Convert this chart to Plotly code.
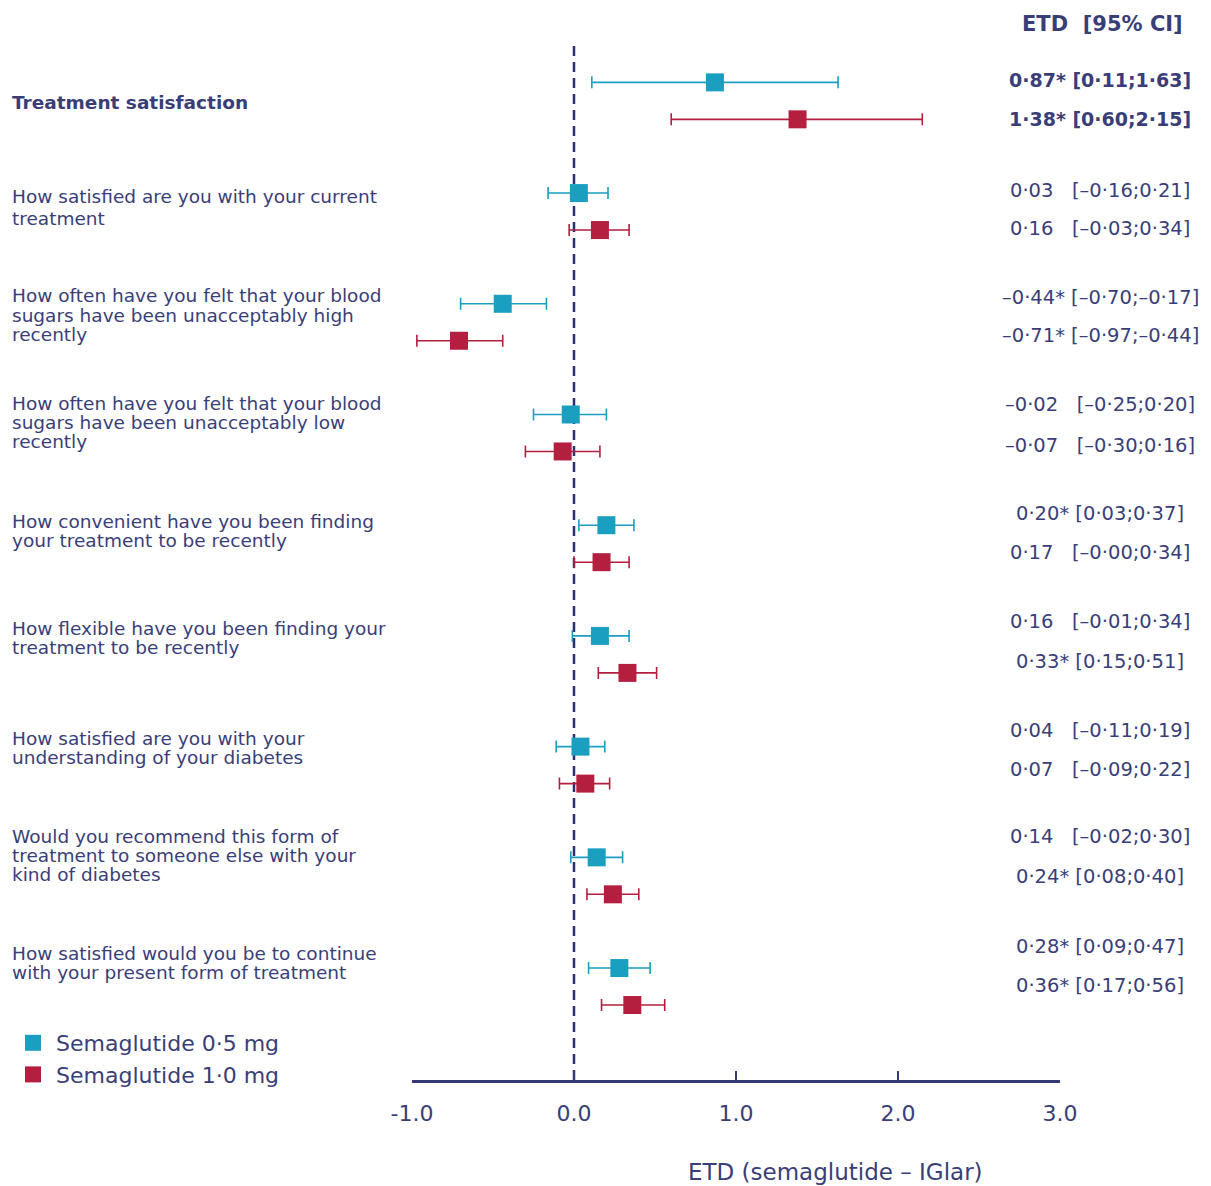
import plotly.graph_objects as go

# ---------------- data ----------------
categories = [
    ["Treatment satisfaction"],
    ["How satisfied are you with your current", "treatment"],
    ["How often have you felt that your blood", "sugars have been unacceptably high", "recently"],
    ["How often have you felt that your blood", "sugars have been unacceptably low", "recently"],
    ["How convenient have you been finding", "your treatment to be recently"],
    ["How flexible have you been finding your", "treatment to be recently"],
    ["How satisfied are you with your", "understanding of your diabetes"],
    ["Would you recommend this form of", "treatment to someone else with your", "kind of diabetes"],
    ["How satisfied would you be to continue", "with your present form of treatment"],
]

sema05_est = [0.87, 0.03, -0.44, -0.02, 0.20, 0.16, 0.04, 0.14, 0.28]
sema05_lo = [0.11, -0.16, -0.70, -0.25, 0.03, -0.01, -0.11, -0.02, 0.09]
sema05_hi = [1.63, 0.21, -0.17, 0.20, 0.37, 0.34, 0.19, 0.30, 0.47]
sema05_sig = [True, False, True, False, True, False, False, False, True]

sema10_est = [1.38, 0.16, -0.71, -0.07, 0.17, 0.33, 0.07, 0.24, 0.36]
sema10_lo = [0.60, -0.03, -0.97, -0.30, -0.00, 0.15, -0.09, 0.08, 0.17]
sema10_hi = [2.15, 0.34, -0.44, 0.16, 0.34, 0.51, 0.22, 0.40, 0.56]
sema10_sig = [True, False, True, False, False, True, False, True, True]

series_names = ["Semaglutide 0·5 mg", "Semaglutide 1·0 mg"]
tick_vals = [-1, 0, 1, 2, 3]
tick_labels = ["-1.0", "0.0", "1.0", "2.0", "3.0"]

# ---------------- styling ----------------
TEAL = "#1a9fc1"
RED = "#b41e3f"
NAVY = "#3a3e78"
LINE = "#353a74"
FONT = "DejaVu Sans"

# page offset (browser body margin)
OFF = 8
# reference geometry (screen pixels)
SW, SH = 1211, 1186
L, R, T, B = 412, 1060, 27, 1080
W, H = SW - OFF, SH - OFF
ROW_PX = 110.75
Y_TOP = -0.5
Y_BOT = (B - 82) / ROW_PX
OFFSET = 37 / ROW_PX


def pxx(px):
    return (px - L) / (R - L)


def pxy(py):
    return (B - py) / (B - T)


def fmt(v):
    return f"{v:.2f}".replace("-", "–").replace(".", "·")


rows = list(range(len(categories)))

fig = go.Figure()

for name, est, lo, hi, col, off in [
    (series_names[0], sema05_est, sema05_lo, sema05_hi, TEAL, 0.0),
    (series_names[1], sema10_est, sema10_lo, sema10_hi, RED, OFFSET),
]:
    fig.add_trace(go.Scatter(
        x=est,
        y=[r + off for r in rows],
        mode="markers",
        name=name,
        legendgroup=name,
        marker=dict(symbol="square", size=18, color=col, line=dict(width=0)),
        error_x=dict(
            type="data", symmetric=False,
            array=[h - e for h, e in zip(hi, est)],
            arrayminus=[e - l for e, l in zip(est, lo)],
            color=col, thickness=1.6, width=6,
        ),
        showlegend=True,
    ))

# dashed zero line
fig.add_shape(type="line", xref="x", yref="paper", x0=0, x1=0,
              y0=0, y1=pxy(45),
              line=dict(color="#2b2f6b", width=2.5, dash="10px,6px"), layer="below")

annotations = []

# left labels
label_centers_px = [103, 208, 315, 422, 531, 638, 748, 855, 963]
for i, lines in enumerate(categories):
    n = len(lines)
    sp = 22 if i == 1 else 19
    for j, ln in enumerate(lines):
        py = label_centers_px[i] + (j - (n - 1) / 2) * sp
        txt = f"<b>{ln}</b>" if i == 0 else ln
        annotations.append(dict(
            x=pxx(10), y=pxy(py), xref="paper", yref="paper", text=txt,
            showarrow=False, xanchor="left", yanchor="middle",
            font=dict(family=FONT, size=18.5, color=NAVY),
        ))

# right value column
right_px = [(80, 119), (190, 229), (297, 335), (405, 445), (513, 552),
            (621, 661), (730, 769), (837, 876), (946, 985)]
for i in rows:
    for k, (est, lo, hi, sig) in enumerate([
        (sema05_est[i], sema05_lo[i], sema05_hi[i], sema05_sig[i]),
        (sema10_est[i], sema10_lo[i], sema10_hi[i], sema10_sig[i]),
    ]):
        mark = "* " if sig else "\u00a0\u00a0\u00a0"
        txt = f"{fmt(est)}{mark}[{fmt(lo)};{fmt(hi)}]"
        if i == 0:
            txt = f"<b>{txt}</b>"
        annotations.append(dict(
            x=pxx(1100), y=pxy(right_px[i][k]), xref="paper", yref="paper", text=txt,
            showarrow=False, xanchor="center", yanchor="middle",
            font=dict(family=FONT, size=19.5 if i else 19, color=NAVY),
        ))

# header
annotations.append(dict(
    x=pxx(1102), y=pxy(24), xref="paper", yref="paper",
    text="<b>ETD\u00a0\u00a0[95% CI]</b>", showarrow=False,
    xanchor="center", yanchor="middle",
    font=dict(family=FONT, size=21, color=NAVY),
))

# axis title
annotations.append(dict(
    x=pxx(835), y=pxy(1172), xref="paper", yref="paper",
    text="ETD (semaglutide – IGlar)", showarrow=False,
    xanchor="center", yanchor="middle",
    font=dict(family=FONT, size=23, color=NAVY),
))

fig.update_layout(
    width=W, height=H,
    margin=dict(l=L - OFF, r=SW - R, t=T - OFF, b=SH - B, pad=0, autoexpand=False),
    paper_bgcolor="white", plot_bgcolor="white",
    font=dict(family=FONT, color=NAVY),
    annotations=annotations,
    showlegend=True,
    legend=dict(
        x=pxx(10), y=pxy(1022),
        xanchor="left", yanchor="top",
        font=dict(family=FONT, size=22, color=NAVY),
        bgcolor="rgba(0,0,0,0)", tracegroupgap=0,
        itemwidth=36,
        itemclick=False,
    ),
    xaxis=dict(
        range=[-1, 3], showgrid=False, zeroline=False,
        showline=True, linecolor=LINE, linewidth=2.5,
        ticks="inside", ticklen=9, tickwidth=2, tickcolor=LINE,
        tickvals=tick_vals, ticktext=tick_labels,
        tickfont=dict(family=FONT, size=22, color=NAVY),
        ticklabelstandoff=12,
        fixedrange=True,
    ),
    yaxis=dict(
        range=[Y_BOT, Y_TOP], visible=False, showgrid=False, zeroline=False,
        fixedrange=True,
    ),
)

fig.write_html("out.html")
